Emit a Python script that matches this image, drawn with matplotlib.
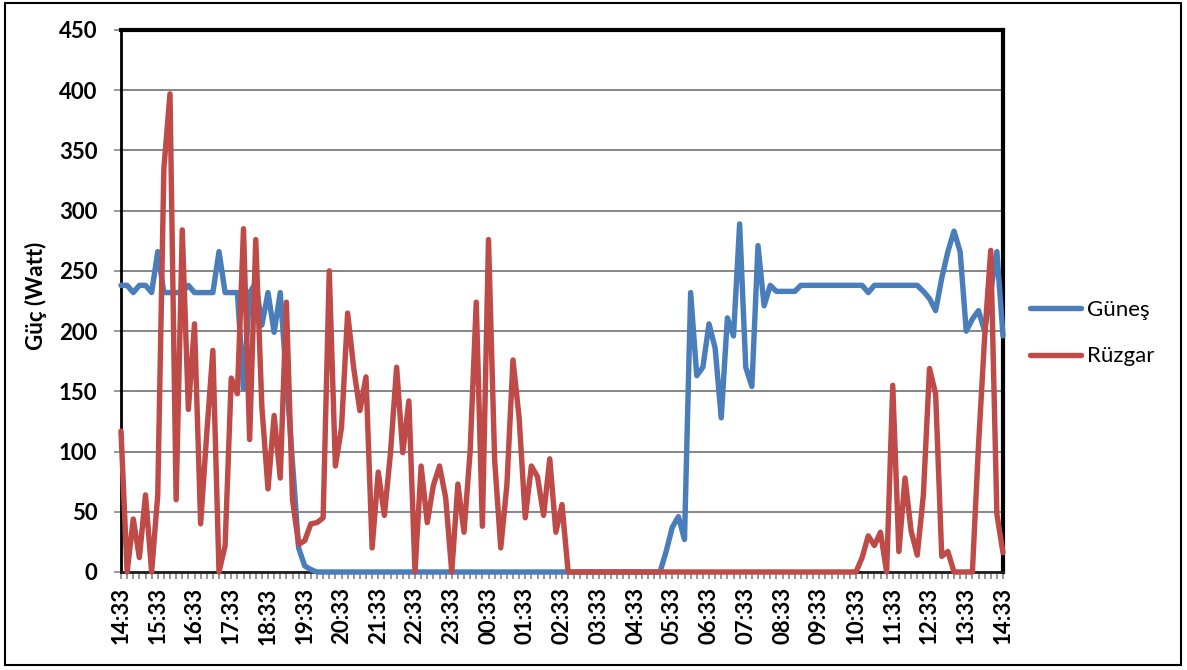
import numpy as np
import matplotlib
matplotlib.use("Agg")
import matplotlib.pyplot as plt
from matplotlib.patches import Rectangle

plt.rcParams['font.family'] = ['Lato', 'DejaVu Sans']

# Hourly axis labels (one reading every 10 minutes, 6 per hour)
hour_labels = ["14:33", "15:33", "16:33", "17:33", "18:33", "19:33", "20:33",
               "21:33", "22:33", "23:33", "00:33", "01:33", "02:33", "03:33",
               "04:33", "05:33", "06:33", "07:33", "08:33", "09:33", "10:33",
               "11:33", "12:33", "13:33", "14:33"]

# Solar power (W)
gunes = [238, 238, 232, 238, 238, 232, 266, 232, 232, 232,
         232, 238, 232, 232, 232, 232, 266, 232, 232, 232,
         152, 232, 240, 205, 232, 199, 232, 161, 91, 20,
         5, 2, 0, 0, 0, 0, 0, 0, 0, 0,
         0, 0, 0, 0, 0, 0, 0, 0, 0, 0,
         0, 0, 0, 0, 0, 0, 0, 0, 0, 0,
         0, 0, 0, 0, 0, 0, 0, 0, 0, 0,
         0, 0, 0, 0, 0, 0, 0, 0, 0, 0,
         0, 0, 0, 0, 0, 0, 0, 0, 0, 17,
         37, 46, 27, 232, 163, 170, 206, 186, 128, 211,
         196, 289, 170, 154, 271, 221, 238, 233, 233, 233,
         233, 238, 238, 238, 238, 238, 238, 238, 238, 238,
         238, 238, 232, 238, 238, 238, 238, 238, 238, 238,
         238, 233, 227, 217, 244, 266, 283, 266, 200, 210,
         217, 200, 233, 266, 196]

# Wind power (W)
ruzgar = [117, 0, 44, 12, 64, 0, 64, 335, 397, 60,
          284, 135, 206, 40, 115, 184, 0, 22, 161, 148,
          285, 110, 276, 137, 69, 130, 78, 224, 60, 23,
          26, 40, 41, 45, 250, 88, 120, 215, 169, 134,
          162, 20, 83, 47, 99, 170, 99, 142, 0, 88,
          41, 72, 88, 62, 0, 73, 33, 100, 224, 38,
          276, 93, 20, 72, 176, 128, 45, 88, 79, 47,
          94, 33, 56, 0, 0, 0, 0, 0, 0, 0,
          0, 0, 0, 0, 0, 0, 0, 0, 0, 0,
          0, 0, 0, 0, 0, 0, 0, 0, 0, 0,
          0, 0, 0, 0, 0, 0, 0, 0, 0, 0,
          0, 0, 0, 0, 0, 0, 0, 0, 0, 0,
          0, 12, 30, 22, 33, 0, 155, 17, 78, 34,
          14, 64, 169, 148, 13, 17, 0, 0, 0, 0,
          105, 195, 267, 48, 16]

y_ticks = [0, 50, 100, 150, 200, 250, 300, 350, 400, 450]

W, H = 1187, 670
fig = plt.figure(figsize=(W / 100, H / 100), dpi=100)
ax = fig.add_axes([121 / W, 1 - 572 / H, (1003 - 121) / W, (572 - 30) / H])

x = np.arange(len(gunes))
ax.plot(x, gunes, color='#4A7EBB', lw=3.9, label='Güneş',
        solid_joinstyle='round', solid_capstyle='round', zorder=3, clip_on=False)
ax.plot(x, ruzgar, color='#BE4B48', lw=3.9, label='Rüzgar',
        solid_joinstyle='round', solid_capstyle='round', zorder=4, clip_on=False)

ax.set_xlim(0, len(gunes) - 1)
ax.set_ylim(0, 450)
ax.set_yticks(y_ticks)
ax.set_yticklabels([str(v) for v in y_ticks], fontweight='bold', fontsize=16)
ax.yaxis.grid(True, color='#868686', lw=1.4)
ax.set_axisbelow(True)

ax.set_xticks(np.arange(0, len(gunes), 6))
ax.set_xticklabels(hour_labels, rotation=90, fontweight='bold', fontsize=16)
ax.set_xticks(x, minor=True)
ax.tick_params(axis='x', which='both', direction='out', length=5,
               color='#868686', width=1.2)
ax.tick_params(axis='x', which='major', pad=6)
ax.tick_params(axis='y', direction='out', length=5, color='#868686',
               width=1.2, pad=12)

ax.set_ylabel('Güç (Watt)', fontweight='bold', fontsize=16)
ax.yaxis.set_label_coords(-0.084, 0.509)

for side in ['top', 'right']:
    ax.spines[side].set_linewidth(3)
    ax.spines[side].set_color('black')
ax.spines['left'].set_linewidth(2)
ax.spines['left'].set_color('black')
ax.spines['bottom'].set_linewidth(2)
ax.spines['bottom'].set_color('#202020')

leg = ax.legend(loc='center left', bbox_to_anchor=(1030 / W, 1 - 333 / H),
                bbox_transform=fig.transFigure, frameon=False,
                fontsize=16, handlelength=2.3, handletextpad=0.25,
                labelspacing=1.2, borderpad=0, borderaxespad=0)
for line in leg.get_lines():
    line.set_solid_capstyle('round')

fig.patches.append(Rectangle((5 / W, 5 / H), (1181 - 5) / W, (667 - 5) / H,
                             transform=fig.transFigure, fill=False,
                             edgecolor='black', lw=1.5))

fig.savefig('out.png', dpi=100)
